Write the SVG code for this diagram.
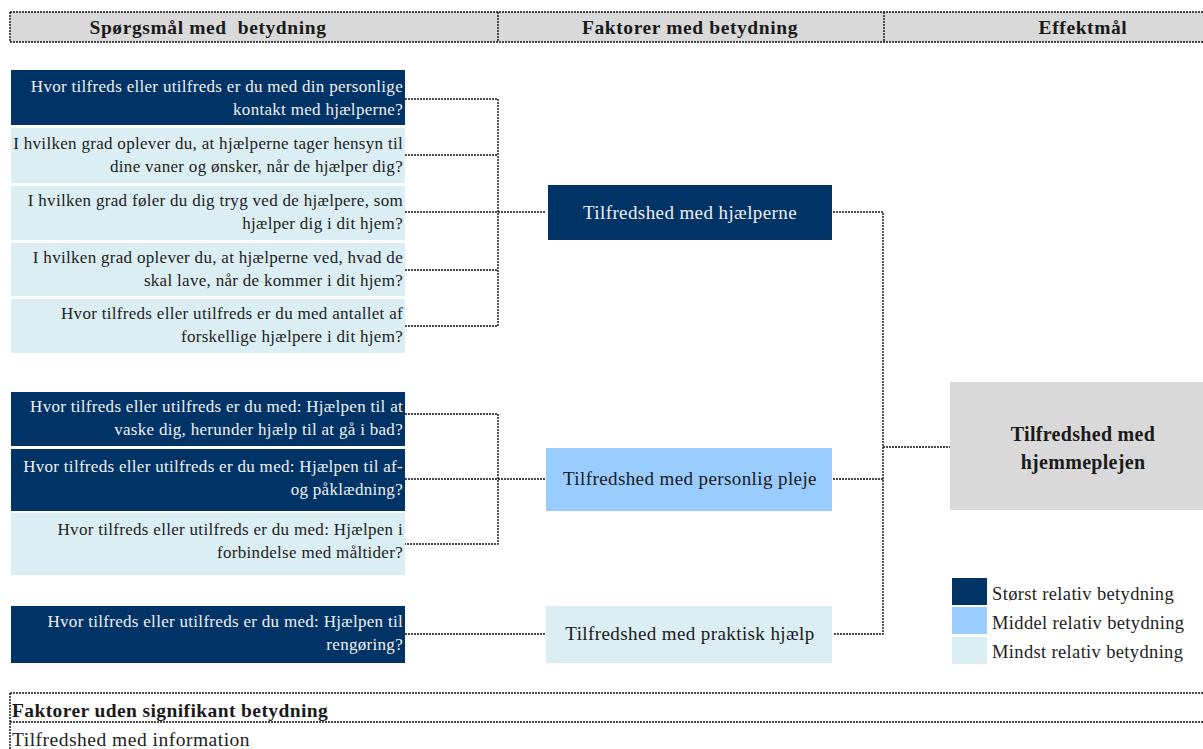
<svg xmlns="http://www.w3.org/2000/svg" width="1203" height="749" viewBox="0 0 1203 749">
<style>
.dot{fill:none;stroke:#111;stroke-width:1.4;stroke-dasharray:2 1}
.hdr{fill:#d9d9d9}
.ht{font-family:"Liberation Serif",serif;font-weight:bold;font-size:19.5px;letter-spacing:0.6px;fill:#1a1a1a;text-anchor:middle}
.q{font-family:"Liberation Serif",serif;font-size:17px;letter-spacing:0.3px;text-anchor:end}
.qd{fill:#f0f0f0}
.ql{fill:#222}
.dark{fill:#003366}
.mid{fill:#99ccff}
.light{fill:#daeef3}
.f{font-family:"Liberation Serif",serif;font-size:19px;letter-spacing:0.4px;text-anchor:middle}
.lg{font-family:"Liberation Serif",serif;font-size:18.5px;letter-spacing:0.35px;fill:#222}
.bt{font-family:"Liberation Serif",serif;font-size:19.5px;fill:#1a1a1a}
</style>
<g id="header">
<rect class="hdr" x="10" y="12" width="1193" height="30"/>
<line class="dot" x1="10" y1="12" x2="1203" y2="12"/>
<line class="dot" x1="10" y1="42" x2="1203" y2="42"/>
<line class="dot" x1="10" y1="12" x2="10" y2="42"/>
<line class="dot" x1="498" y1="12" x2="498" y2="42"/>
<line class="dot" x1="884" y1="12" x2="884" y2="42"/>
<text class="ht" x="208" y="34" xml:space="preserve">Spørgsmål med  betydning</text>
<text class="ht" x="690" y="34">Faktorer med betydning</text>
<text class="ht" x="1083" y="34">Effektmål</text>
</g>
<g id="connectors">
<polyline class="dot" points="405,99 498,99 498,326 405,326"/>
<line class="dot" x1="405" y1="155" x2="498" y2="155"/>
<line class="dot" x1="405" y1="212" x2="546" y2="212"/>
<line class="dot" x1="405" y1="270" x2="498" y2="270"/>
<polyline class="dot" points="405,414 498,414 498,544 405,544"/>
<line class="dot" x1="405" y1="479" x2="545" y2="479"/>
<line class="dot" x1="405" y1="634" x2="545" y2="634"/>
<polyline class="dot" points="833,212 883,212 883,634 833,634"/>
<line class="dot" x1="833" y1="479" x2="883" y2="479"/>
<line class="dot" x1="883" y1="447" x2="950" y2="447"/>
</g>
<g id="q1"><rect class="dark" x="11" y="70" width="394" height="55"/>
<text class="q qd" x="403" y="92">Hvor tilfreds eller utilfreds er du med din personlige</text>
<text class="q qd" x="403" y="115">kontakt med hjælperne?</text></g>
<g id="q2"><rect class="light" x="11" y="128" width="394" height="55"/>
<text class="q ql" x="403" y="149">I hvilken grad oplever du, at hjælperne tager hensyn til</text>
<text class="q ql" x="403" y="172">dine vaner og ønsker, når de hjælper dig?</text></g>
<g id="q3"><rect class="light" x="11" y="186" width="394" height="54"/>
<text class="q ql" x="403" y="206">I hvilken grad føler du dig tryg ved de hjælpere, som</text>
<text class="q ql" x="403" y="229">hjælper dig i dit hjem?</text></g>
<g id="q4"><rect class="light" x="11" y="243" width="394" height="53"/>
<text class="q ql" x="403" y="263">I hvilken grad oplever du, at hjælperne ved, hvad de</text>
<text class="q ql" x="403" y="286">skal lave, når de kommer i dit hjem?</text></g>
<g id="q5"><rect class="light" x="11" y="299" width="394" height="54"/>
<text class="q ql" x="403" y="319">Hvor tilfreds eller utilfreds er du med antallet af</text>
<text class="q ql" x="403" y="342">forskellige hjælpere i dit hjem?</text></g>
<g id="q6"><rect class="dark" x="11" y="392" width="394" height="54"/>
<text class="q qd" x="403" y="412">Hvor tilfreds eller utilfreds er du med: Hjælpen til at</text>
<text class="q qd" x="403" y="435">vaske dig, herunder hjælp til at gå i bad?</text></g>
<g id="q7"><rect class="dark" x="11" y="449" width="394" height="62"/>
<text class="q qd" x="403" y="472">Hvor tilfreds eller utilfreds er du med: Hjælpen til af-</text>
<text class="q qd" x="403" y="495">og påklædning?</text></g>
<g id="q8"><rect class="light" x="11" y="513" width="394" height="62"/>
<text class="q ql" x="403" y="535">Hvor tilfreds eller utilfreds er du med: Hjælpen i</text>
<text class="q ql" x="403" y="558">forbindelse med måltider?</text></g>
<g id="q9"><rect class="dark" x="11" y="606" width="394" height="57"/>
<text class="q qd" x="403" y="627">Hvor tilfreds eller utilfreds er du med: Hjælpen til</text>
<text class="q qd" x="403" y="650">rengøring?</text></g>
<g id="f1"><rect class="dark" x="548" y="185" width="284" height="55"/>
<text class="f" x="690" y="219" fill="#f0f0f0">Tilfredshed med hjælperne</text></g>
<g id="f2"><rect class="mid" x="546" y="448" width="286" height="63"/>
<text class="f" x="690" y="485" fill="#1a1a1a">Tilfredshed med personlig pleje</text></g>
<g id="f3"><rect class="light" x="546" y="606" width="286" height="57"/>
<text class="f" x="690" y="640" fill="#1a1a1a">Tilfredshed med praktisk hjælp</text></g>
<g id="effekt"><rect class="hdr" x="950" y="382" width="253" height="128"/>
<text class="ht" x="1083" y="441" style="font-size:20px;letter-spacing:0.3px">Tilfredshed med</text>
<text class="ht" x="1083" y="469" style="font-size:20px;letter-spacing:0.3px">hjemmeplejen</text></g>
<g id="legend">
<rect class="dark" x="952" y="578" width="35" height="27"/>
<rect class="mid" x="952" y="607" width="35" height="27"/>
<rect class="light" x="952" y="637" width="35" height="27"/>
<text class="lg" x="992" y="600">Størst relativ betydning</text>
<text class="lg" x="992" y="629">Middel relativ betydning</text>
<text class="lg" x="992" y="658">Mindst relativ betydning</text>
</g>
<g id="uden">
<line class="dot" x1="10" y1="693" x2="1203" y2="693"/>
<line class="dot" x1="10" y1="722" x2="1203" y2="722"/>
<line class="dot" x1="10" y1="693" x2="10" y2="749"/>
<text class="bt" x="12" y="717" style="font-weight:bold;letter-spacing:0.4px">Faktorer uden signifikant betydning</text>
<text class="bt" x="12" y="746" style="letter-spacing:0.5px;fill:#222">Tilfredshed med information</text>
</g>
</svg>
